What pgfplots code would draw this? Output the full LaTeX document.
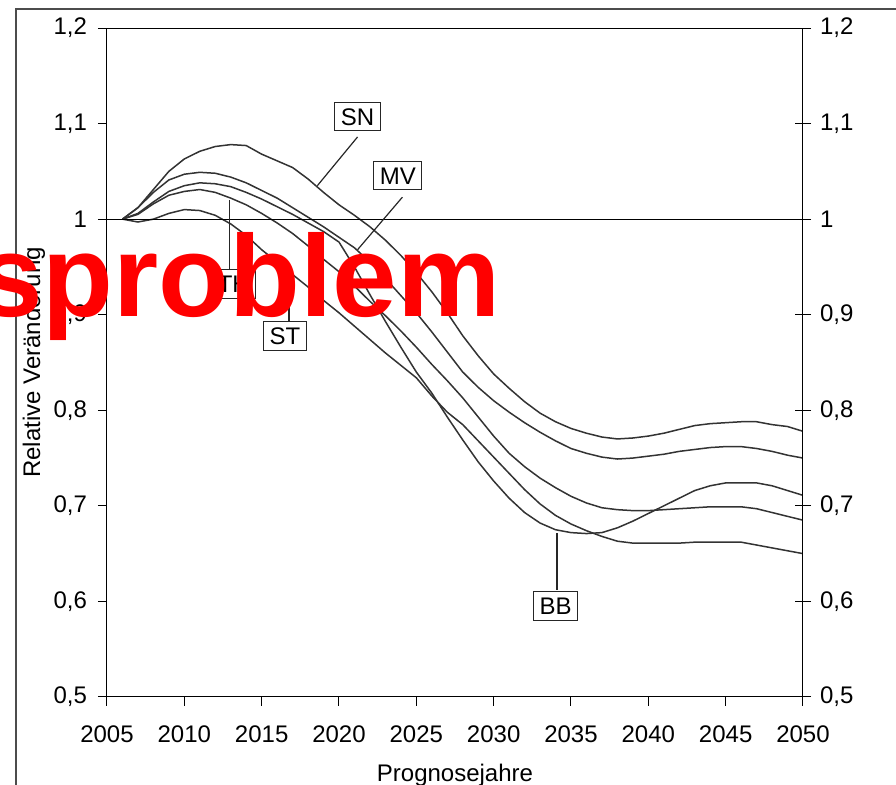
\documentclass[border=0pt]{standalone}
\usepackage{fontspec}
\setmainfont{Liberation Sans}
\usepackage{pgfplots}
\usepackage{pgfplotstable}
\pgfplotsset{compat=1.18}
\pgfkeys{/pgf/number format/assume math mode=true}

\pgfplotstableread{
year SN MV BB TH ST
2006 1.000 1.000 1.000 1.000 1.000
2007 1.012 1.012 1.006 1.005 0.997
2008 1.031 1.028 1.018 1.016 1.000
2009 1.050 1.041 1.029 1.025 1.006
2010 1.063 1.047 1.035 1.029 1.010
2011 1.071 1.049 1.038 1.031 1.009
2012 1.076 1.048 1.037 1.028 1.004
2013 1.078 1.044 1.034 1.022 0.995
2014 1.077 1.038 1.028 1.015 0.983
2015 1.068 1.030 1.021 1.006 0.968
2016 1.061 1.022 1.013 0.996 0.955
2017 1.054 1.012 1.005 0.985 0.942
2018 1.042 1.002 0.996 0.972 0.929
2019 1.028 0.992 0.987 0.958 0.915
2020 1.015 0.981 0.976 0.945 0.902
2021 1.004 0.970 0.950 0.930 0.888
2022 0.992 0.955 0.921 0.914 0.874
2023 0.978 0.938 0.893 0.899 0.860
2024 0.962 0.920 0.866 0.883 0.847
2025 0.944 0.902 0.840 0.866 0.834
2026 0.924 0.882 0.818 0.848 0.815
2027 0.902 0.861 0.793 0.831 0.798
2028 0.878 0.840 0.769 0.813 0.785
2029 0.857 0.824 0.746 0.793 0.768
2030 0.838 0.810 0.726 0.773 0.751
2031 0.823 0.798 0.708 0.755 0.734
2032 0.809 0.787 0.693 0.741 0.717
2033 0.797 0.777 0.682 0.729 0.702
2034 0.788 0.768 0.675 0.719 0.690
2035 0.781 0.760 0.672 0.710 0.681
2036 0.776 0.755 0.671 0.703 0.674
2037 0.772 0.751 0.672 0.698 0.668
2038 0.770 0.749 0.677 0.696 0.663
2039 0.771 0.750 0.684 0.695 0.661
2040 0.773 0.752 0.692 0.695 0.661
2041 0.776 0.754 0.700 0.696 0.661
2042 0.780 0.757 0.708 0.697 0.661
2043 0.784 0.759 0.716 0.698 0.662
2044 0.786 0.761 0.721 0.699 0.662
2045 0.787 0.762 0.724 0.699 0.662
2046 0.788 0.762 0.724 0.699 0.662
2047 0.788 0.760 0.724 0.697 0.659
2048 0.785 0.757 0.721 0.693 0.656
2049 0.783 0.753 0.716 0.689 0.653
2050 0.778 0.750 0.711 0.685 0.650
}\data

\begin{document}
\begin{tikzpicture}[
  lbl/.style={draw=black!85, fill=white, line width=0.5pt, font=\fontsize{12}{14}\selectfont,
              inner xsep=3pt, inner ysep=2.8pt, text height=8.6pt, text depth=0pt},
  ptr/.style={draw=black!85, line width=0.6pt},
  ln/.style={black!80, line width=0.75pt, mark=none}]
\begin{axis}[
  scale only axis, width=348pt, height=334.5pt,
  xmin=2005, xmax=2050, ymin=0.5, ymax=1.2,
  xtick={2005,2010,2015,2020,2025,2030,2035,2040,2045,2050},
  ytick={0.5,0.6,0.7,0.8,0.9,1,1.1,1.2},
  xtick pos=bottom, ytick pos=left, tick align=outside, major tick length=4.5pt,
  minor tick num=0,
  axis line style={black, line width=0.5pt},
  tick style={black, line width=0.5pt},
  tick label style={font=\fontsize{12}{14}\selectfont, black},
  xticklabel style={/pgf/number format/1000 sep={}, yshift=-6.5pt},
  yticklabel style={/pgf/number format/use comma, xshift=-2pt},
  xlabel={Prognosejahre}, ylabel={Relative Veränderung},
  label style={font=\fontsize{12}{14}\selectfont},
  xlabel style={at={(axis description cs:0.5,-0.1166)}, anchor=center},
  ylabel style={at={(axis description cs:-0.1049,0.5)}, anchor=center},
]
\addplot[ln] table[x=year,y=SN]{\data};
\addplot[ln] table[x=year,y=MV]{\data};
\addplot[ln] table[x=year,y=BB]{\data};
\addplot[ln] table[x=year,y=TH]{\data};
\addplot[ln] table[x=year,y=ST]{\data};
\draw[black, line width=0.5pt] (axis cs:2005,1) -- (axis cs:2050,1);
% annotations
\draw[ptr] (axis cs:2021.2,1.086) -- (axis cs:2018.6,1.035);
\node[lbl] at (axis cs:2021.2,1.1074) {SN};
\draw[ptr] (axis cs:2024.1,1.023) -- (axis cs:2021.2,0.968);
\node[lbl] at (axis cs:2023.8,1.0457) {MV};
\draw[ptr] (axis cs:2012.9,0.947) -- (axis cs:2012.9,1.020);
\node[lbl] at (axis cs:2013.2,0.932) {TH};
\draw[ptr] (axis cs:2016.77,0.893) -- (axis cs:2016.77,0.945);
\node[lbl] at (axis cs:2016.5,0.8777) {ST};
\draw[ptr] (axis cs:2034.1,0.612) -- (axis cs:2034.1,0.6716);
\node[lbl] at (axis cs:2034.0,0.595) {BB};
\end{axis}
\begin{axis}[
  scale only axis, width=348pt, height=334.5pt,
  xmin=2005, xmax=2050, ymin=0.5, ymax=1.2,
  axis x line=none, axis y line*=right,
  ytick={0.5,0.6,0.7,0.8,0.9,1,1.1,1.2},
  yticklabel pos=right, tick align=center, major tick length=8pt,
  axis line style={black, line width=0.5pt},
  tick style={black, line width=0.5pt},
  tick label style={font=\fontsize{12}{14}\selectfont, black},
  yticklabel style={/pgf/number format/use comma, xshift=1pt},
]
\addplot[draw=none, mark=none] coordinates {(2005,0.5) (2050,1.2)};
\end{axis}
% outer frame
\draw[black!70, line width=0.6pt] (-45.5pt,-60pt) -- (-45.5pt,344pt) -- (420pt,344pt);
% overlay text
\node[anchor=base east, inner sep=0pt, text=red, font=\fontsize{58}{60}\selectfont\bfseries]
  at (197pt,190pt) {sproblem};
\pgfresetboundingbox
\useasboundingbox (-53.5pt,-44pt) rectangle (394.5pt,348.5pt);
\end{tikzpicture}
\end{document}
